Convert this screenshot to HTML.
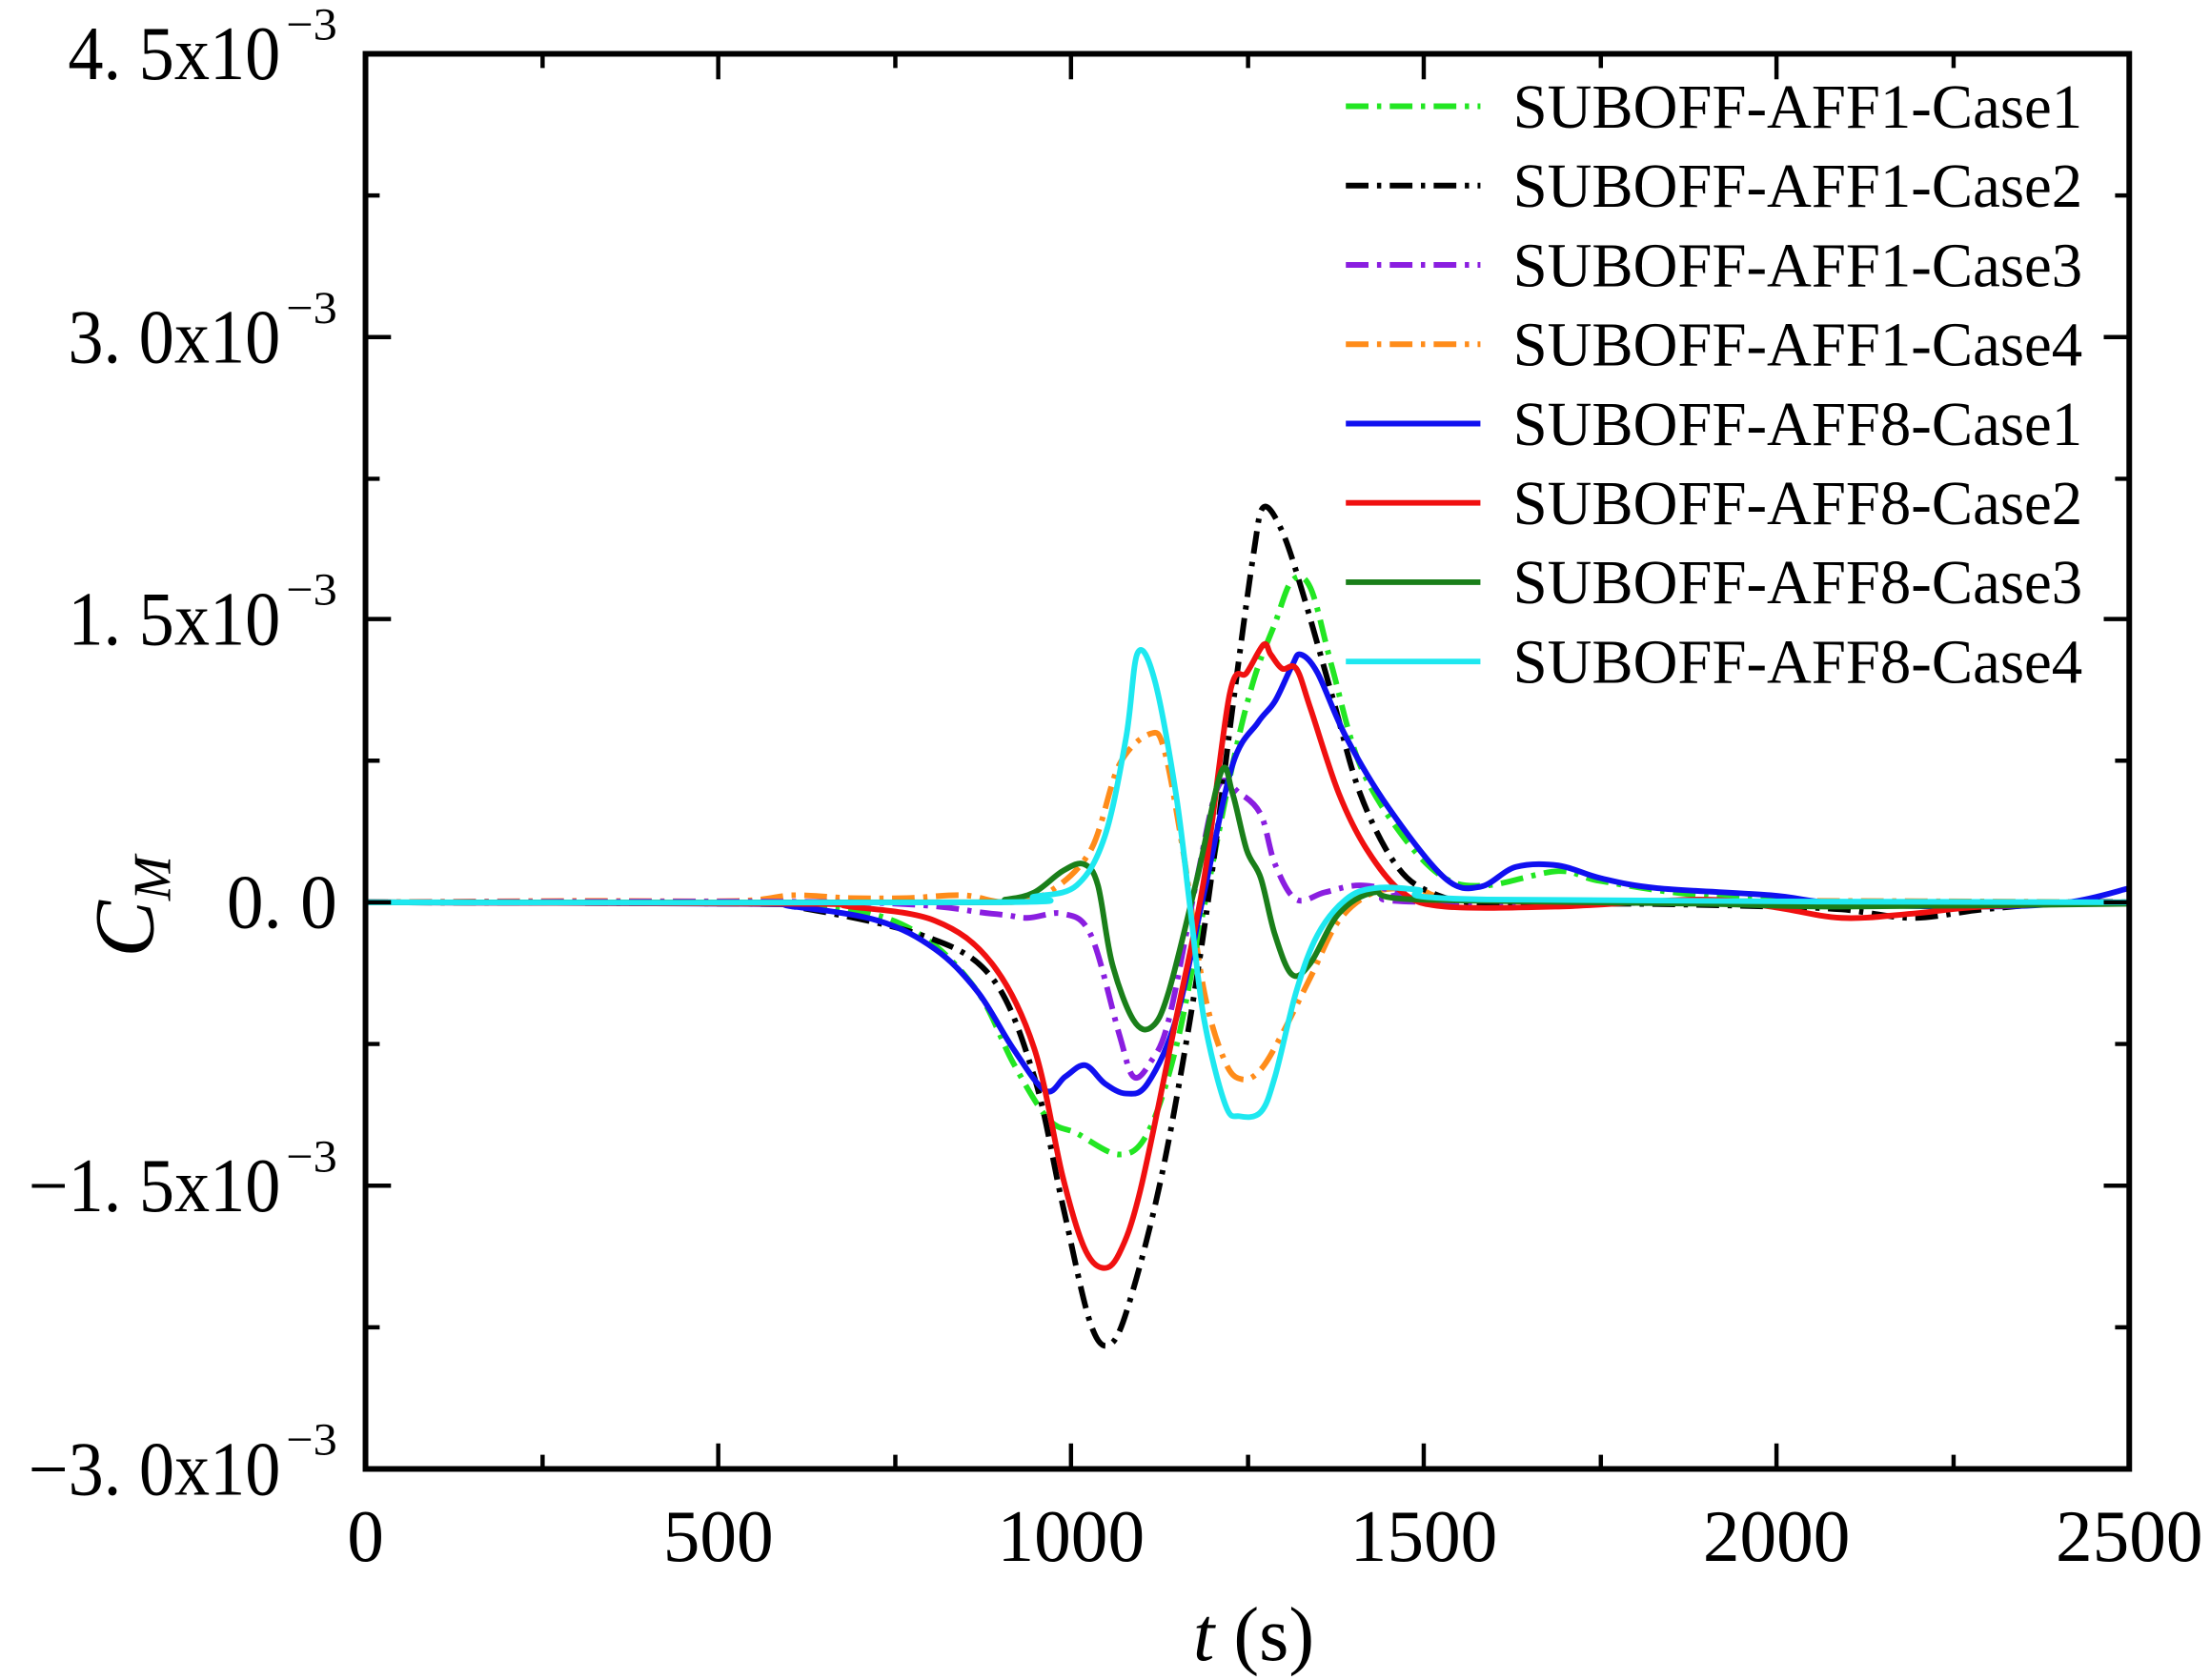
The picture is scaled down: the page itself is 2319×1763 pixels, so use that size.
<!DOCTYPE html>
<html><head><meta charset="utf-8"><style>
html,body{margin:0;padding:0;background:#fff;}
svg{display:block;}
text{font-family:"Liberation Serif",serif;fill:#000;}
</style></head><body>
<svg id="s" width="2319" height="1763" viewBox="0 0 1560 1186" preserveAspectRatio="none" xmlns="http://www.w3.org/2000/svg">
<g fill="none" stroke-width="4" stroke-linejoin="round" stroke-linecap="butt">
<polyline stroke="#ff8c1a" stroke-dasharray="16 6 3 6" points="258,637 400,636 520,636 560,632 600,634 640,634 680,632 710,637 740,630 770,600 790,540 812,518 822,530 835,600 850,700 865,750 877,762 890,755 905,730 925,690 945,650 970,630 1000,628 1050,636 1300,636 1503,637"/>
<polyline stroke="#8a1ee0" stroke-dasharray="16 6 3 6" points="258,637 600,637 700,645 725,648 750,645 770,660 790,730 800,760 812,750 825,720 845,620 860,555 875,560 890,575 900,610 915,635 935,630 960,625 990,630 1020,637 1503,637"/>
<polyline stroke="#22e622" stroke-dasharray="16 6 3 6" points="258,637 520,638 600,642 650,660 690,700 715,750 740,790 760,800 790,815 810,800 830,740 850,640 870,540 885,480 900,440 912,410 925,415 940,470 960,540 990,590 1020,620 1050,625 1100,615 1130,622 1200,632 1300,637 1503,637"/>
<polyline stroke="#000" stroke-dasharray="16 6 3 6" points="258,637 520,638 560,640 650,660 700,690 730,760 750,850 770,935 785,948 800,910 820,830 840,720 855,620 870,500 885,390 892,358 905,375 920,420 940,490 960,560 985,610 1010,630 1050,638 1150,638 1250,640 1300,642 1350,648 1400,642 1460,637 1503,637"/>
<polyline stroke="#1010f0" points="258,637 520,638 560,640 620,650 660,670 690,700 715,740 738,770 752,760 766,752 780,765 795,772 810,765 830,720 850,630 870,540 888,510 900,495 912,470 918,462 930,475 950,520 980,570 1020,620 1045,626 1070,612 1100,611 1130,620 1170,627 1250,632 1300,638 1400,640 1460,637 1503,627"/>
<polyline stroke="#f01010" points="258,637 560,638 600,640 660,650 700,680 730,740 750,830 765,880 778,895 790,885 805,840 830,720 850,620 868,490 880,475 892,455 897,462 905,472 915,472 925,500 945,560 965,600 990,630 1020,640 1100,640 1200,635 1250,640 1300,648 1350,645 1400,640 1503,637"/>
<polyline stroke="#1a7f1a" points="258,637 680,637 710,635 730,630 750,615 765,610 775,625 785,680 800,720 813,725 825,700 845,620 862,545 870,560 880,600 890,620 900,660 912,688 925,680 945,645 970,630 1000,635 1200,638 1300,640 1503,638"/>
<polyline stroke="#1ee8f0" points="258,637 700,637 730,633 760,625 780,590 795,520 803,461 815,480 830,560 840,640 850,720 865,780 875,788 890,785 900,760 915,700 930,660 950,635 970,627 1000,628 1050,635 1503,637"/>
</g>
<rect x="258" y="38" width="1245" height="999" fill="none" stroke="#000" stroke-width="4"/>
<g stroke="#000" stroke-width="3">
<path d="M383,1037v-10M507,1037v-18M632,1037v-10M756,1037v-18M881,1037v-10M1005,1037v-18M1130,1037v-10M1254,1037v-18M1379,1037v-10
M383,38v10M507,38v18M632,38v10M756,38v18M881,38v10M1005,38v18M1130,38v10M1254,38v18M1379,38v10
M258,138h10M258,238h18M258,338h10M258,437h18M258,537h10M258,637h18M258,737h10M258,837h18M258,937h10
M1503,138h-10M1503,238h-18M1503,338h-10M1503,437h-18M1503,537h-10M1503,637h-18M1503,737h-10M1503,837h-18M1503,937h-10"/>
</g>
<g font-size="54">
<text x="48" y="56" textLength="150" lengthAdjust="spacingAndGlyphs">4. 5x10</text>
<text x="48" y="256" textLength="150" lengthAdjust="spacingAndGlyphs">3. 0x10</text>
<text x="48" y="455" textLength="150" lengthAdjust="spacingAndGlyphs">1. 5x10</text>
<text x="160" y="655" textLength="78" lengthAdjust="spacingAndGlyphs">0. 0</text>
<text x="20" y="855" textLength="178" lengthAdjust="spacingAndGlyphs">−1. 5x10</text>
<text x="20" y="1055" textLength="178" lengthAdjust="spacingAndGlyphs">−3. 0x10</text>
</g>
<g font-size="32">
<text x="202" y="28" textLength="36" lengthAdjust="spacingAndGlyphs">−3</text>
<text x="202" y="228" textLength="36" lengthAdjust="spacingAndGlyphs">−3</text>
<text x="202" y="427" textLength="36" lengthAdjust="spacingAndGlyphs">−3</text>
<text x="202" y="827" textLength="36" lengthAdjust="spacingAndGlyphs">−3</text>
<text x="202" y="1027" textLength="36" lengthAdjust="spacingAndGlyphs">−3</text>
</g>
<g font-size="52" text-anchor="middle">
<text x="258" y="1102">0</text><text x="507" y="1102">500</text><text x="756" y="1102">1000</text>
<text x="1005" y="1102">1500</text><text x="1254" y="1102">2000</text><text x="1503" y="1102">2500</text>
</g>
<text x="885" y="1172" font-size="54" text-anchor="middle"><tspan font-style="italic">t</tspan> (s)</text>
<text transform="translate(108,640) rotate(-90)" font-size="60" text-anchor="middle"><tspan font-style="italic">C</tspan><tspan font-style="italic" font-size="38" dy="12">M</tspan></text>
<g stroke-width="4" fill="none">
<path d="M950,75h95" stroke="#22e622" stroke-dasharray="16 6 3 6"/>
<path d="M950,131h95" stroke="#000" stroke-dasharray="16 6 3 6"/>
<path d="M950,187h95" stroke="#8a1ee0" stroke-dasharray="16 6 3 6"/>
<path d="M950,243h95" stroke="#ff8c1a" stroke-dasharray="16 6 3 6"/>
<path d="M950,299h95" stroke="#1010f0"/>
<path d="M950,355h95" stroke="#f01010"/>
<path d="M950,411h95" stroke="#1a7f1a"/>
<path d="M950,467h95" stroke="#1ee8f0"/>
</g>
<g font-size="44">
<text x="1068" y="90" textLength="402" lengthAdjust="spacingAndGlyphs">SUBOFF-AFF1-Case1</text>
<text x="1068" y="146" textLength="402" lengthAdjust="spacingAndGlyphs">SUBOFF-AFF1-Case2</text>
<text x="1068" y="202" textLength="402" lengthAdjust="spacingAndGlyphs">SUBOFF-AFF1-Case3</text>
<text x="1068" y="258" textLength="402" lengthAdjust="spacingAndGlyphs">SUBOFF-AFF1-Case4</text>
<text x="1068" y="314" textLength="402" lengthAdjust="spacingAndGlyphs">SUBOFF-AFF8-Case1</text>
<text x="1068" y="370" textLength="402" lengthAdjust="spacingAndGlyphs">SUBOFF-AFF8-Case2</text>
<text x="1068" y="426" textLength="402" lengthAdjust="spacingAndGlyphs">SUBOFF-AFF8-Case3</text>
<text x="1068" y="482" textLength="402" lengthAdjust="spacingAndGlyphs">SUBOFF-AFF8-Case4</text>
</g>
</svg>
<script>
(function(){
var ns="http://www.w3.org/2000/svg";
document.querySelectorAll("polyline").forEach(function(pl){
 var pts=pl.getAttribute("points").trim().split(/\s+/).map(function(s){return s.split(",").map(Number);});
 var d="M"+pts[0][0]+","+pts[0][1];
 for(var i=0;i<pts.length-1;i++){
  var p0=pts[i-1]||pts[i],p1=pts[i],p2=pts[i+1],p3=pts[i+2]||p2;
  var c1x=p1[0]+(p2[0]-p0[0])/6,c1y=p1[1]+(p2[1]-p0[1])/6;
  var c2x=p2[0]-(p3[0]-p1[0])/6,c2y=p2[1]-(p3[1]-p1[1])/6;
  d+=" C"+c1x.toFixed(1)+","+c1y.toFixed(1)+" "+c2x.toFixed(1)+","+c2y.toFixed(1)+" "+p2[0]+","+p2[1];
 }
 var p=document.createElementNS(ns,"path");
 p.setAttribute("d",d);
 ["stroke","stroke-dasharray"].forEach(function(a){var v=pl.getAttribute(a);if(v)p.setAttribute(a,v);});
 pl.parentNode.replaceChild(p,pl);
});
})();
</script>
</body></html>
